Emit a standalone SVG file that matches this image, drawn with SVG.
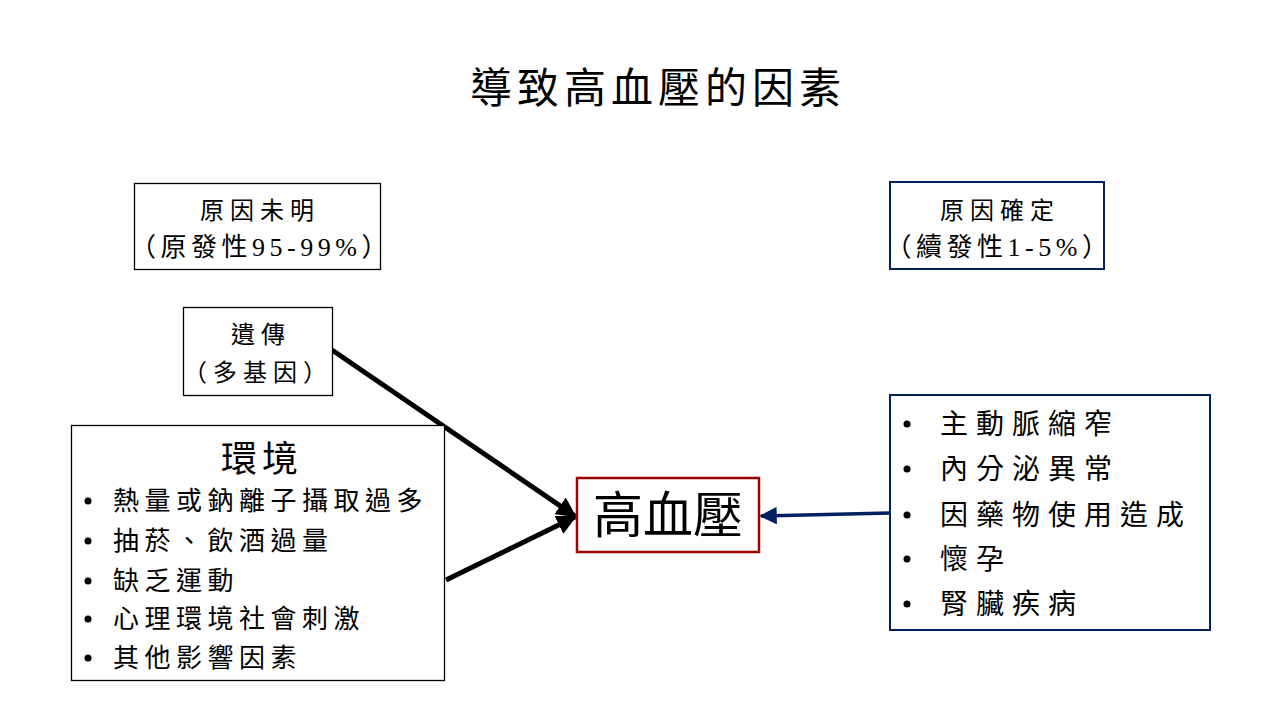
<svg xmlns="http://www.w3.org/2000/svg" width="1280" height="720" viewBox="0 0 1280 720">
<defs>
<style>
text{font-family:'Liberation Serif','Noto Sans CJK TC',serif;fill:#000}
.box{fill:#fff;stroke:#000;stroke-width:1.3}
.navy{fill:#fff;stroke:#002060;stroke-width:2}
.red{fill:#fff;stroke:#990000;stroke-width:2.5}
.t24{font-size:24px;letter-spacing:6px}
.par{font-size:26px;letter-spacing:4.5px}
.item{font-size:26px;letter-spacing:5.5px}
.ritem{font-size:28px;letter-spacing:8px}
.bul{fill:#000}
</style>
<marker id="ah" viewBox="0 0 10 10" refX="9" refY="5" markerWidth="4" markerHeight="4" orient="auto" markerUnits="strokeWidth"><path d="M0,0 L10,5 L0,10 Z" fill="#000"/></marker>
<marker id="ahb" viewBox="0 0 10 10" refX="9" refY="5" markerWidth="5" markerHeight="5" orient="auto" markerUnits="strokeWidth"><path d="M0,0 L10,5 L0,10 Z" fill="#002060"/></marker>
</defs>
<rect width="1280" height="720" fill="#fff"/>
<text x="658" y="103" text-anchor="middle" style="font-size:42px;letter-spacing:5px">導致高血壓的因素</text>
<g id="connectors">
<line x1="332" y1="350" x2="575" y2="516" stroke="#000" stroke-width="5" marker-end="url(#ah)"/>
<line x1="446" y1="580" x2="575" y2="517" stroke="#000" stroke-width="5" marker-end="url(#ah)"/>
<line x1="890" y1="513" x2="761" y2="516" stroke="#002060" stroke-width="3.5" marker-end="url(#ahb)"/>
</g>
<g id="unknown">
<rect class="box" x="134.5" y="183.5" width="246" height="86"/>
<text class="t24" x="260" y="219" text-anchor="middle">原因未明</text>
<text class="par" x="261" y="256" text-anchor="middle">（原發性95-99%）</text>
</g>
<g id="known">
<rect class="navy" x="890" y="182" width="214" height="87"/>
<text class="t24" x="1000" y="219" text-anchor="middle">原因確定</text>
<text class="par" x="999" y="256" text-anchor="middle">（續發性1-5%）</text>
</g>
<g id="genetic">
<rect class="box" x="183.5" y="307.5" width="149" height="88"/>
<text class="t24" x="261" y="343" text-anchor="middle">遺傳</text>
<text class="t24" x="258" y="381" text-anchor="middle">（多基因）</text>
</g>
<g id="environment">
<rect class="box" x="71.5" y="425.5" width="373" height="255"/>
<text x="262" y="472" text-anchor="middle" style="font-size:36px;letter-spacing:5px">環境</text>
<circle class="bul" cx="88" cy="501" r="3.5"/>
<circle class="bul" cx="88" cy="541" r="3.5"/>
<circle class="bul" cx="88" cy="581" r="3.5"/>
<circle class="bul" cx="88" cy="619" r="3.5"/>
<circle class="bul" cx="88" cy="658" r="3.5"/>
<text class="item" x="113" y="510">熱量或鈉離子攝取過多</text>
<text class="item" x="113" y="550">抽菸、飲酒過量</text>
<text class="item" x="113" y="590">缺乏運動</text>
<text class="item" x="113" y="628">心理環境社會刺激</text>
<text class="item" x="113" y="667">其他影響因素</text>
</g>
<g id="hypertension">
<rect class="red" x="577" y="478" width="182" height="74"/>
<text x="668" y="533" text-anchor="middle" style="font-size:50px">高血壓</text>
</g>
<g id="secondary">
<rect class="navy" x="890" y="395" width="320" height="235"/>
<circle class="bul" cx="907" cy="424" r="3.5"/>
<circle class="bul" cx="907" cy="469" r="3.5"/>
<circle class="bul" cx="907" cy="515" r="3.5"/>
<circle class="bul" cx="907" cy="559" r="3.5"/>
<circle class="bul" cx="907" cy="604" r="3.5"/>
<text class="ritem" x="940" y="434">主動脈縮窄</text>
<text class="ritem" x="940" y="479">內分泌異常</text>
<text class="ritem" x="940" y="525">因藥物使用造成</text>
<text class="ritem" x="940" y="569">懷孕</text>
<text class="ritem" x="940" y="614">腎臟疾病</text>
</g>
</svg>
